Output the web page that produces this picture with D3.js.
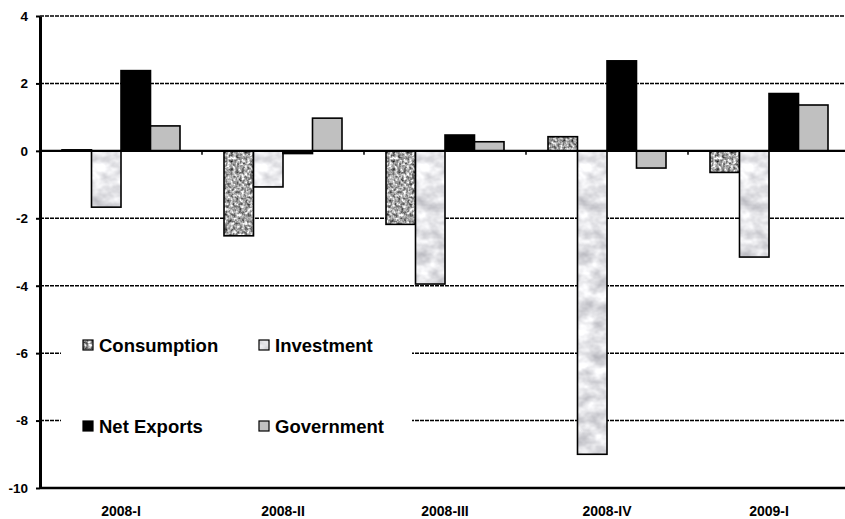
<!DOCTYPE html>
<html>
<head>
<meta charset="utf-8">
<script src="https://cdn.jsdelivr.net/npm/d3@7"></script>
<style>
  html, body { margin: 0; padding: 0; background: #fff; }
  svg { display: block; }
  text { font-family: Arial, "Liberation Sans", sans-serif; font-weight: bold; fill: #000; }
</style>
</head>
<body>
<div id="chart"></div>
<script>
// Quarterly contributions to GDP growth (percentage points)
const quarters = ["2008-I", "2008-II", "2008-III", "2008-IV", "2009-I"];
const seriesNames = ["Consumption", "Investment", "Net Exports", "Government"];
const consumption = [0.03, -2.52, -2.18, 0.42, -0.64];
const investment  = [-1.67, -1.07, -3.95, -9.0, -3.15];
const netExports  = [2.38, -0.08, 0.47, 2.67, 1.7];
const government  = [0.74, 0.97, 0.27, -0.51, 1.36];
const yTicks = [-10, -8, -6, -4, -2, 0, 2, 4];

const seriesValues = [consumption, investment, netExports, government];

const W = 845, H = 519;
const svg = d3.select("#chart").append("svg").attr("width", W).attr("height", H);

// Texture fills: granite speckle for consumption, marble for investment
const defs = svg.append("defs");

const fGranite = defs.append("filter").attr("id", "fGranite")
  .attr("color-interpolation-filters", "sRGB")
  .attr("x", 0).attr("y", 0).attr("width", "100%").attr("height", "100%");
fGranite.append("feTurbulence").attr("type", "fractalNoise")
  .attr("baseFrequency", 0.35).attr("numOctaves", 2).attr("seed", 3);
fGranite.append("feColorMatrix").attr("type", "matrix")
  .attr("values", "1.4 0 0 0 -0.05  1.4 0 0 0 -0.05  1.4 0 0 0 -0.05  0 0 0 0 1");

const fMarble = defs.append("filter").attr("id", "fMarble")
  .attr("color-interpolation-filters", "sRGB")
  .attr("x", 0).attr("y", 0).attr("width", "100%").attr("height", "100%");
fMarble.append("feTurbulence").attr("type", "fractalNoise")
  .attr("baseFrequency", "0.06 0.08").attr("numOctaves", 3).attr("seed", 7);
fMarble.append("feColorMatrix").attr("type", "matrix")
  .attr("values", "0.45 0 0 0 0.66  0.45 0 0 0 0.66  0.42 0 0 0 0.69  0 0 0 0 1");

[["granite", "fGranite"], ["marble", "fMarble"]].forEach(([id, f]) => {
  defs.append("pattern").attr("id", id)
    .attr("patternUnits", "userSpaceOnUse")
    .attr("width", W).attr("height", H)
    .append("rect").attr("width", W).attr("height", H)
    .attr("filter", `url(#${f})`);
});

const fills = ["url(#granite)", "url(#marble)", "#000000", "#c0c0c0"];

// Scales
const x = d3.scaleBand().domain(quarters).range([40, 850]);
const xs = d3.scaleBand().domain(seriesNames).range([22, 140]);
const y = d3.scaleLinear().domain([-10, 4]).range([488, 16]);

// Gridlines
const grid = svg.append("g");
grid.selectAll("line")
  .data(yTicks.filter(v => v !== 0 && v !== -10))
  .join("line")
  .attr("x1", 40).attr("x2", W)
  .attr("y1", d => y(d)).attr("y2", d => y(d))
  .attr("stroke", "#000").attr("stroke-width", 1.5)
  .attr("stroke-dasharray", "4,1");

// Bottom frame line at -10
svg.append("line")
  .attr("x1", 40).attr("x2", W)
  .attr("y1", y(-10)).attr("y2", y(-10))
  .attr("stroke", "#000").attr("stroke-width", 2.4);

// Legend backdrop
svg.append("rect")
  .attr("x", 61).attr("y", 300).attr("width", 351).attr("height", 160)
  .attr("fill", "#fff");

// Bars
const groups = svg.append("g").selectAll("g")
  .data(quarters)
  .join("g")
  .attr("transform", d => `translate(${x(d)},0)`);

groups.selectAll("rect")
  .data((q, qi) => seriesNames.map((s, si) => ({ s, si, v: seriesValues[si][qi] })))
  .join("rect")
  .attr("x", d => xs(d.s))
  .attr("width", xs.bandwidth())
  .attr("y", d => y(Math.max(0, d.v)))
  .attr("height", d => Math.abs(y(d.v) - y(0)))
  .attr("fill", d => fills[d.si])
  .attr("stroke", "#000").attr("stroke-width", 1.6);

// Zero line with group boundary ticks
svg.append("line")
  .attr("x1", 40).attr("x2", W)
  .attr("y1", y(0)).attr("y2", y(0))
  .attr("stroke", "#000").attr("stroke-width", 2.4);
svg.append("g").selectAll("line")
  .data(quarters.slice(1))
  .join("line")
  .attr("x1", d => x(d)).attr("x2", d => x(d))
  .attr("y1", y(0)).attr("y2", y(0) + 4)
  .attr("stroke", "#000").attr("stroke-width", 1.5);

// Y axis
const yAxis = svg.append("g")
  .attr("transform", "translate(40,0)")
  .call(d3.axisLeft(y).tickValues(yTicks).tickSize(4).tickSizeOuter(0).tickPadding(8)
    .tickFormat(d => String(d)));
yAxis.select(".domain").attr("stroke", "#000").attr("stroke-width", 3);
yAxis.selectAll(".tick line").attr("stroke", "#000").attr("stroke-width", 2);
yAxis.selectAll(".tick text")
  .style("font-family", "Arial, 'Liberation Sans', sans-serif")
  .style("font-weight", "bold").style("font-size", "13.5px").attr("fill", "#000");

// Category labels
const xAxis = svg.append("g")
  .attr("transform", `translate(0,${y(-10)})`)
  .call(d3.axisBottom(x).tickSize(0));
xAxis.select(".domain").remove();
xAxis.selectAll(".tick text")
  .attr("y", 28).attr("dy", 0)
  .style("font-family", "Arial, 'Liberation Sans', sans-serif")
  .style("font-weight", "bold").style("font-size", "14px").attr("fill", "#000");

// Legend
const legendPos = [
  { sx: 83, ty: 352 }, { sx: 259, ty: 352 },
  { sx: 83, ty: 433 }, { sx: 259, ty: 433 }
];
const legend = svg.append("g").selectAll("g")
  .data(seriesNames)
  .join("g")
  .attr("transform", (d, i) => `translate(${legendPos[i].sx},${legendPos[i].ty})`);
legend.append("rect")
  .attr("x", 0).attr("y", -12).attr("width", 10).attr("height", 10)
  .attr("fill", (d, i) => fills[i])
  .attr("stroke", "#000").attr("stroke-width", 1.2);
legend.append("text")
  .attr("x", 16).attr("y", 0)
  .style("font-size", "18.5px")
  .text(d => d);
</script>
</body>
</html>
